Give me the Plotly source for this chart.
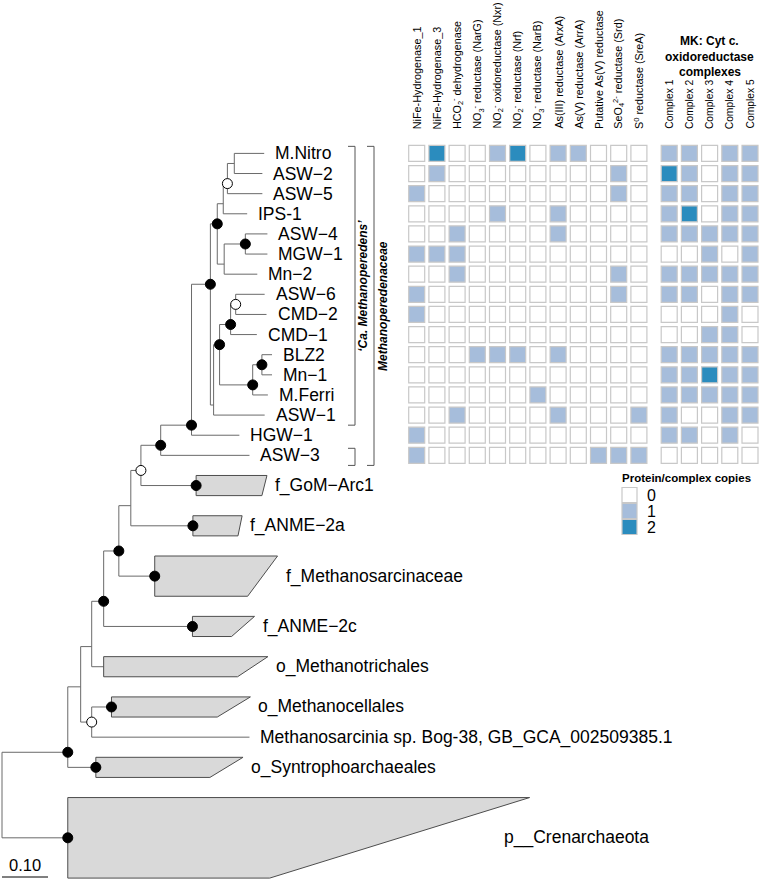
import plotly.graph_objects as go

W, H = 760, 883
FONT = "Liberation Sans, Arial, sans-serif"

# ---------------- tree data (children listed top -> bottom) ----------------
edge_parent = ["root", "root",
               "n68", "n68",
               "n81", "n81",
               "n92a", "n92a",
               "n104", "n104",
               "n119", "n119",
               "n131", "n131",
               "n141", "n141",
               "n161", "n161",
               "n192", "n192",
               "nA", "nA",
               "n6", "n6",
               "n3", "n3",
               "n2", "n2",
               "n1", "n1",
               "n5", "n5",
               "n4", "n4",
               "nC", "nC",
               "n7", "n7",
               "n8", "n8",
               "n10", "n10",
               "n9", "n9",
               "n11", "n11",
               "n92b", "n92b"]
edge_child = ["n68", "p__Crenarchaeota",
              "n81", "o_Syntrophoarchaeales",
              "n92a", "n92b",
              "n104", "o_Methanotrichales",
              "n119", "f_ANME−2c",
              "n131", "f_Methanosarcinaceae",
              "n141", "f_ANME−2a",
              "n161", "f_GoM−Arc1",
              "n192", "ASW−3",
              "nA", "HGW−1",
              "n6", "nC",
              "n3", "n5",
              "n2", "IPS-1",
              "n1", "ASW−5",
              "M.Nitro", "ASW−2",
              "n4", "Mn−2",
              "ASW−4", "MGW−1",
              "n7", "ASW−1",
              "n8", "n9",
              "n10", "CMD−1",
              "ASW−6", "CMD−2",
              "n11", "M.Ferri",
              "BLZ2", "Mn−1",
              "o_Methanocellales", "Methanosarcinia sp. Bog-38, GB_GCA_002509385.1"]
edge_length = [0.143, 0.143,
               0.028, 0.061,
               0.024, 0.024,
               0.026, 0.026,
               0.033, 0.193,
               0.026, 0.078,
               0.022, 0.135,
               0.043, 0.120,
               0.067, 0.193,
               0.041, 0.104,
               0.015, 0.007,
               0.013, 0.015,
               0.009, 0.052,
               0.015, 0.076,
               0.065, 0.061,
               0.046, 0.072,
               0.048, 0.048,
               0.013, 0.111,
               0.024, 0.072,
               0.011, 0.057,
               0.063, 0.067,
               0.020, 0.033,
               0.022, 0.022,
               0.043, 0.343]

# collapsed clades: height (in tip rows), deepest and shallowest tip depth below clade node
clade_names = ["f_GoM−Arc1", "f_ANME−2a", "f_Methanosarcinaceae", "f_ANME−2c",
               "o_Methanotrichales", "o_Methanocellales", "o_Syntrophoarchaeales",
               "p__Crenarchaeota"]
clade_rows = [1, 1, 2, 1, 1, 1, 1, 4]
clade_max_depth = [0.154, 0.107, 0.267, 0.135, 0.357, 0.302, 0.320, 1.004]
clade_min_depth = [0.143, 0.098, 0.202, 0.085, 0.291, 0.230, 0.248, 0.439]

# bootstrap support symbols
support_high = ["n4", "n6", "nA", "n8", "n7", "n11", "n9", "n192", "n161", "n119",
                "n104", "n68", "f_GoM−Arc1", "f_ANME−2a", "f_Methanosarcinaceae",
                "f_ANME−2c", "o_Methanocellales", "o_Syntrophoarchaeales",
                "p__Crenarchaeota"]
support_mid = ["n2", "n10", "n141", "n92b"]

# brackets
bracket_labels = ["<b><i>‘Ca. Methanoperedens’</i></b>", "<b><i>Methanoperedenaceae</i></b>"]
bracket_segments = [[("M.Nitro", "ASW−1"), ("ASW−3", "ASW−3")],
                    [("M.Nitro", "ASW−3")]]

# ---------------- heatmap data ----------------
heat_rows = ["M.Nitro", "ASW−2", "ASW−5", "IPS-1", "ASW−4", "MGW−1", "Mn−2", "ASW−6",
             "CMD−2", "CMD−1", "BLZ2", "Mn−1", "M.Ferri", "ASW−1", "HGW−1", "ASW−3"]
protein_labels = ["NiFe-Hydrogenase_1", "NiFe-Hydrogenase_3",
                  "HCO<sub>2</sub><sup>-</sup> dehydrogenase",
                  "NO<sub>3</sub><sup>-</sup> reductase (NarG)",
                  "NO<sub>2</sub><sup>-</sup> oxidoreductase (Nxr)",
                  "NO<sub>2</sub><sup>-</sup> reductase (Nrf)",
                  "NO<sub>3</sub><sup>-</sup> reductase (NarB)",
                  "As(III) reductase (ArxA)", "As(V) reductase (ArrA)",
                  "Putative As(V) reductase",
                  "SeO<sub>4</sub><sup>2-</sup> reductase (Srd)",
                  "S<sup>0</sup> reductase (SreA)"]
protein_copies = [
    [0, 2, 0, 0, 1, 2, 0, 1, 1, 0, 0, 0],
    [0, 1, 0, 0, 0, 0, 0, 0, 0, 0, 1, 0],
    [1, 0, 0, 0, 0, 0, 0, 0, 0, 0, 1, 0],
    [0, 0, 0, 0, 1, 0, 0, 1, 0, 0, 0, 0],
    [0, 0, 1, 0, 0, 0, 0, 1, 0, 0, 0, 0],
    [1, 1, 1, 0, 0, 0, 0, 0, 0, 0, 0, 0],
    [0, 0, 1, 0, 0, 0, 0, 0, 0, 0, 1, 0],
    [1, 0, 0, 0, 0, 0, 0, 0, 0, 0, 1, 0],
    [1, 0, 0, 0, 0, 0, 0, 0, 0, 0, 0, 0],
    [0, 0, 0, 0, 0, 0, 0, 0, 0, 0, 0, 0],
    [0, 0, 0, 1, 1, 1, 0, 1, 0, 0, 0, 0],
    [0, 0, 0, 0, 0, 0, 0, 0, 0, 0, 0, 0],
    [0, 0, 0, 0, 0, 0, 1, 0, 0, 0, 0, 0],
    [0, 0, 1, 0, 0, 0, 0, 1, 0, 0, 0, 1],
    [1, 0, 0, 0, 0, 0, 0, 0, 0, 0, 0, 0],
    [1, 0, 0, 0, 0, 0, 0, 0, 0, 1, 1, 1],
]
complex_title_lines = ["MK: Cyt c.", "oxidoreductase", "complexes"]
complex_labels = ["Complex 1", "Complex 2", "Complex 3", "Complex 4", "Complex 5"]
complex_copies = [
    [1, 1, 0, 1, 1],
    [2, 1, 0, 1, 1],
    [1, 1, 0, 1, 1],
    [1, 2, 0, 1, 1],
    [1, 1, 1, 1, 1],
    [0, 0, 1, 0, 1],
    [1, 1, 1, 1, 1],
    [1, 1, 0, 1, 1],
    [0, 0, 0, 1, 0],
    [0, 0, 1, 1, 0],
    [1, 1, 1, 1, 1],
    [1, 1, 2, 1, 1],
    [1, 1, 1, 1, 1],
    [1, 0, 0, 1, 1],
    [1, 1, 0, 1, 0],
    [0, 0, 0, 0, 0],
]
legend_title = "<b>Protein/complex copies</b>"
legend_values = [0, 1, 2]
scale_bar_length = 0.10

# ---------------- styling / layout constants ----------------
COPY_COLORS = {0: "#ffffff", 1: "#a6bddb", 2: "#2b8cbe"}
LINE_COL = "#6a6a6a"
X0_PX, PX_PER_UNIT = 2.0, 460.0      # tree x mapping
Y0_PX, ROW_PX = 153.4, 20.13         # row mapping
HM_X0_PX, COL_PX = 416.7, 20.2       # heatmap column mapping
GROUP_GAP = 0.5
CLADE_LABEL_SHIFT = {"p__Crenarchaeota": -34}
TITLE_LINE_PX = [41, 57, 72]

# ---------------- tree layout ----------------
children, blen = {}, {}
for p, c, l in zip(edge_parent, edge_child, edge_length):
    children.setdefault(p, []).append(c)
    blen[c] = l
clade_info = {n: (r, mx, mn) for n, r, mx, mn in
              zip(clade_names, clade_rows, clade_max_depth, clade_min_depth)}

xpos, ypos, first_tip, last_tip = {"root": 0.0}, {}, {}, {}
cursor = [-0.5]


def layout(node):
    if node in children:
        kids = children[node]
        for c in kids:
            xpos[c] = xpos[node] + blen[c]
            layout(c)
        first_tip[node] = first_tip[kids[0]]
        last_tip[node] = last_tip[kids[-1]]
        ypos[node] = (last_tip[kids[0]] + first_tip[kids[1]]) / 2.0
    else:
        slots = clade_info[node][0] + 1 if node in clade_info else 1
        y = cursor[0] + slots / 2.0
        cursor[0] += slots
        ypos[node] = first_tip[node] = last_tip[node] = y


layout("root")

fig = go.Figure()

# branches
lx, ly = [], []
for node, kids in children.items():
    lx += [xpos[node], xpos[node], None]
    ly += [ypos[kids[0]], ypos[kids[-1]], None]
    for c in kids:
        lx += [xpos[node], xpos[c], None]
        ly += [ypos[c], ypos[c], None]
fig.add_trace(go.Scatter(x=lx, y=ly, mode="lines", line=dict(color=LINE_COL, width=1),
                         hoverinfo="skip", showlegend=False))

# collapsed clades
tx, ty = [], []
for n in clade_names:
    r, mx, mn = clade_info[n]
    xc, yc = xpos[n], ypos[n]
    tx += [xc, xc + mx, xc + mn, xc, xc, None]
    ty += [yc - r / 2, yc - r / 2, yc + r / 2, yc + r / 2, yc - r / 2, None]
fig.add_trace(go.Scatter(x=tx, y=ty, mode="lines", fill="toself", fillcolor="#d9d9d9",
                         line=dict(color="#4d4d4d", width=1), hoverinfo="skip",
                         showlegend=False))

# support circles
fig.add_trace(go.Scatter(x=[xpos[n] for n in support_high], y=[ypos[n] for n in support_high],
                         mode="markers", marker=dict(size=10, color="black",
                                                     line=dict(color="black", width=1)),
                         hoverinfo="skip", showlegend=False))
fig.add_trace(go.Scatter(x=[xpos[n] for n in support_mid], y=[ypos[n] for n in support_mid],
                         mode="markers", marker=dict(size=10, color="white",
                                                     line=dict(color="black", width=1)),
                         hoverinfo="skip", showlegend=False))

annotations = []
# tip and clade labels
for node in xpos:
    if node in children:
        continue
    if node in clade_info:
        x = xpos[node] + clade_info[node][1]
        shift = 6 + CLADE_LABEL_SHIFT.get(node, 0)
    else:
        x = xpos[node]
        shift = 9
    annotations.append(dict(x=x, y=ypos[node], xref="x", yref="y", text=node,
                            showarrow=False, xanchor="left", yanchor="middle",
                            xshift=shift, font=dict(family=FONT, size=17.5, color="black")))

# scale bar
sb_y = 1 - 877 / H
fig.add_shape(type="line", xref="x", yref="paper", x0=0, x1=scale_bar_length,
              y0=sb_y, y1=sb_y, line=dict(color="black", width=1))
annotations.append(dict(x=scale_bar_length / 2, y=sb_y, xref="x", yref="paper", text="0.10",
                        showarrow=False, yanchor="bottom", yshift=1,
                        font=dict(family=FONT, size=16.5, color="black")))

# brackets
bracket_px = [355, 374]
label_px = [363, 383]
for lab, segs, bx, lxp in zip(bracket_labels, bracket_segments, bracket_px, label_px):
    for i, (a, b) in enumerate(segs):
        top, bot = ypos[a] - 0.35, ypos[b] + 0.5
        xb = bx / W
        xt = (bx - 7) / W
        fig.add_shape(type="line", xref="paper", yref="y", x0=xb, x1=xb, y0=top, y1=bot,
                      line=dict(color="#555555", width=1))
        for yy in (top, bot):
            fig.add_shape(type="line", xref="paper", yref="y", x0=xt, x1=xb, y0=yy, y1=yy,
                          line=dict(color="#555555", width=1))
        if i == 0:
            annotations.append(dict(x=lxp / W, y=(top + bot) / 2, xref="paper", yref="y",
                                    text=lab, showarrow=False, textangle=-90,
                                    xanchor="center", yanchor="middle",
                                    font=dict(family=FONT, size=12, color="black")))

# ---------------- heatmap ----------------
n_prot = len(protein_labels)
prot_x = list(range(n_prot))
cplx_x = [n_prot + GROUP_GAP + j for j in range(len(complex_labels))]

hx, hy, hc = [], [], []
for r, name in enumerate(heat_rows):
    for j, v in enumerate(protein_copies[r]):
        hx.append(prot_x[j]); hy.append(ypos[name]); hc.append(COPY_COLORS[v])
    for j, v in enumerate(complex_copies[r]):
        hx.append(cplx_x[j]); hy.append(ypos[name]); hc.append(COPY_COLORS[v])
fig.add_trace(go.Scatter(x=hx, y=hy, xaxis="x2", yaxis="y", mode="markers",
                         marker=dict(symbol="square", size=16, color=hc,
                                     line=dict(color="#c8c8c8", width=1.2)),
                         hoverinfo="skip", showlegend=False))

head_y = 1 - 131 / H
for x, lab in zip(prot_x, protein_labels):
    annotations.append(dict(x=x, y=head_y, xref="x2", yref="paper", text=lab,
                            showarrow=False, textangle=-90, xanchor="center",
                            yanchor="bottom", font=dict(family=FONT, size=10.8, color="black")))
for x, lab in zip(cplx_x, complex_labels):
    annotations.append(dict(x=x, y=head_y, xref="x2", yref="paper", text=lab,
                            showarrow=False, textangle=-90, xanchor="center",
                            yanchor="bottom", font=dict(family=FONT, size=10.3, color="black")))
for line, ypx in zip(complex_title_lines, TITLE_LINE_PX):
    annotations.append(dict(x=(cplx_x[0] + cplx_x[-1]) / 2, y=1 - ypx / H, xref="x2",
                            yref="paper", text="<b>" + line + "</b>", showarrow=False,
                            xanchor="center", yanchor="middle",
                            font=dict(family=FONT, size=12, color="black")))

# legend
annotations.append(dict(x=620 / W, y=1 - 478 / H, xref="paper", yref="paper",
                        text=legend_title, showarrow=False, xanchor="left", yanchor="middle",
                        font=dict(family=FONT, size=11.5, color="black")))
for i, v in enumerate(legend_values):
    cy = 495 + 16 * i
    fig.add_shape(type="rect", xref="paper", yref="paper",
                  x0=622 / W, x1=637 / W, y0=1 - (cy - 7.5) / H, y1=1 - (cy + 7.5) / H,
                  fillcolor=COPY_COLORS[v], line=dict(color="#c8c8c8", width=1.2))
    annotations.append(dict(x=645 / W, y=1 - cy / H, xref="paper", yref="paper",
                            text=str(v), showarrow=False, xanchor="left", yanchor="middle",
                            font=dict(family=FONT, size=16, color="black")))

fig.update_layout(
    width=W, height=H, margin=dict(l=0, r=0, t=0, b=0, autoexpand=False),
    plot_bgcolor="white", paper_bgcolor="white", showlegend=False,
    xaxis=dict(domain=[0, 1], range=[-X0_PX / PX_PER_UNIT, (W - X0_PX) / PX_PER_UNIT],
               visible=False, fixedrange=True),
    xaxis2=dict(domain=[0, 1], overlaying="x", anchor="y",
                range=[-HM_X0_PX / COL_PX, (W - HM_X0_PX) / COL_PX], visible=False),
    yaxis=dict(domain=[0, 1], range=[(H - Y0_PX) / ROW_PX, -Y0_PX / ROW_PX], visible=False),
    annotations=annotations,
)

fig.write_html(
    "out.html",
    config={"displayModeBar": False, "staticPlot": True},
    post_script="document.body.style.margin='0';document.body.style.padding='0';"
                "document.documentElement.style.overflow='hidden';",
)
